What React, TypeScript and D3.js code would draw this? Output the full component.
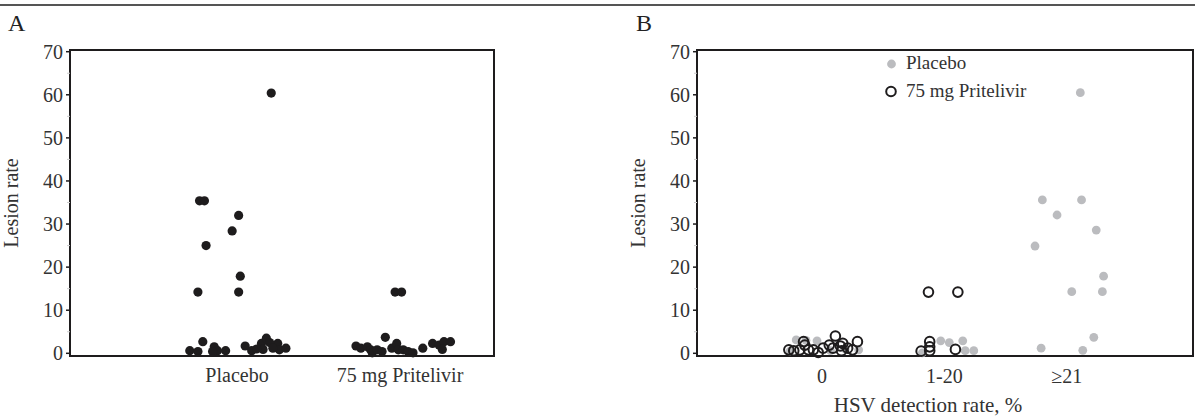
import React from "react";
import * as d3 from "d3";

// panel A: [jitter (category units), lesion rate]
const placeboA: [number, number][] = [
  [-0.23, 35.4], [-0.2, 35.4], [0.01, 32], [-0.03, 28.4], [-0.19, 25], [0.02, 17.9],
  [0.01, 14.2], [-0.24, 14.2], [0.21, 60.4],
  [-0.29, 0.6], [-0.24, 0.4], [-0.21, 2.7], [-0.14, 1.5], [-0.12, 0.6], [-0.07, 0.6],
  [0.05, 1.7], [0.09, 0.6], [0.15, 2.3], [0.18, 3.5], [0.16, 0.9], [0.25, 2.3],
  [0.26, 0.8], [0.3, 1.2], [0.12, 1.0], [0.2, 2.5], [-0.15, 0.4], [0.22, 1.2],
];
const pritelivirA: [number, number][] = [
  [-0.27, 1.7], [-0.24, 1.2], [-0.2, 1.5], [-0.18, 0.8], [-0.17, 0.1], [-0.14, 0.8],
  [-0.11, 0.4], [-0.09, 3.7], [-0.05, 1.2], [-0.02, 2.3], [-0.01, 0.8], [0.02, 0.8],
  [0.05, 0.4], [0.08, 0.1], [0.14, 1.2], [0.2, 2.3], [0.24, 1.9], [0.27, 2.7],
  [0.31, 2.7], [0.26, 0.9], [-0.03, 14.2], [0.01, 14.2],
];

// panel B: [category index, jitter, lesion rate]
const placeboB: [number, number, number][] = [
  [0, -0.21, 3.1], [0, -0.04, 2.9], [0, -0.13, 3.0], [0, 0.3, 0.8], [0, -0.26, 0.5],
  [0, 0.07, 0.6], [0, 0.19, 1.0],
  [1, -0.03, 2.9], [1, 0.04, 2.5], [1, 0.15, 2.9], [1, 0.17, 0.6], [1, 0.24, 0.6], [1, -0.18, 0.1],
  [2, -0.2, 35.6], [2, 0.12, 35.6], [2, -0.08, 32.1], [2, 0.24, 28.6], [2, 0.3, 17.9],
  [2, 0.04, 14.3], [2, 0.29, 14.3], [2, 0.11, 60.5], [2, -0.26, 24.9], [2, -0.21, 1.2],
  [2, 0.13, 0.7], [2, 0.22, 3.7],
];
const pritelivirB: [number, number, number][] = [
  [0, -0.27, 0.8], [0, -0.23, 0.6], [0, -0.18, 0.8], [0, -0.15, 2.7], [0, -0.14, 1.9],
  [0, -0.11, 0.8], [0, -0.07, 0.8], [0, 0.01, 1.2], [0, 0.06, 1.9], [0, 0.11, 4.0],
  [0, 0.09, 1.2], [0, 0.15, 1.7], [0, 0.17, 2.3], [0, 0.21, 1.2], [0, 0.25, 0.8],
  [0, 0.29, 2.7], [0, 0.16, 0.6], [0, -0.03, 0.2],
  [1, -0.19, 0.5], [1, -0.12, 2.7], [1, -0.12, 1.5], [1, -0.12, 0.6], [1, 0.09, 0.9],
  [1, -0.13, 14.2], [1, 0.11, 14.2],
];

const catsA = ["Placebo", "75 mg Pritelivir"];
const catsB = ["0", "1-20", "≥21"];
const yTicks = [0, 10, 20, 30, 40, 50, 60, 70];
const yMinor = [5, 15, 25, 35, 45, 55, 65];

const txt = { fontFamily: "Liberation Serif, Times New Roman, serif", fill: "#333" };
const GRAY = "#bbbcbf";
const INK = "#1e1c1d";

const y = d3.scaleLinear().domain([0, 70]).range([353.3, 51.7]);
const boxTop = 50;
const boxBottom = 356;

const xA = d3.scaleLinear().domain([-1.025, 1.577]).range([70, 494]);
const xB = d3.scaleLinear().domain([-1.02, 3.03]).range([697, 1193]);

function Frame({ x0, x1, label }: { x0: number; x1: number; label: string }) {
  return (
    <g>
      <rect x={x0} y={boxTop} width={x1 - x0} height={boxBottom - boxTop}
        fill="none" stroke={INK} strokeWidth={2} />
      {yMinor.map((t) => (
        <line key={"m" + t} x1={x0 - 3} x2={x0} y1={y(t)} y2={y(t)} stroke="#ccc" strokeWidth={1} />
      ))}
      {yTicks.map((t) => (
        <g key={t}>
          <line x1={x0 - 4} x2={x0} y1={y(t)} y2={y(t)} stroke={INK} strokeWidth={1.5} />
          <text x={x0 - 7} y={y(t)} dy="0.35em" textAnchor="end" fontSize={20} style={txt}>{t}</text>
        </g>
      ))}
      <text transform={`translate(${x0 - 52},${(boxTop + boxBottom) / 2}) rotate(-90)`}
        textAnchor="middle" fontSize={20} style={txt}>{label}</text>
    </g>
  );
}

export default function App() {
  return (
    <svg width={1195} height={416} style={{ position: "absolute", left: 0, top: 0, background: "#fff" }}>
      <line x1={0} x2={1195} y1={5} y2={5} stroke="#555" strokeWidth={2} />
      <text x={8} y={31} fontSize={24} style={{ ...txt, fill: "#222" }}>A</text>
      <text x={636} y={31} fontSize={24} style={{ ...txt, fill: "#222" }}>B</text>

      {/* Panel A */}
      <Frame x0={xA.range()[0]} x1={xA.range()[1]} label="Lesion rate" />
      {catsA.map((c, i) => (
        <text key={c} x={xA(i)} y={382} textAnchor="middle" fontSize={20} style={txt}>{c}</text>
      ))}
      {placeboA.map(([j, v], i) => (
        <circle key={"pa" + i} cx={xA(0 + j)} cy={y(v)} r={4.6} fill={INK} />
      ))}
      {pritelivirA.map(([j, v], i) => (
        <circle key={"ta" + i} cx={xA(1 + j)} cy={y(v)} r={4.6} fill={INK} />
      ))}

      {/* Panel B */}
      <Frame x0={xB.range()[0]} x1={xB.range()[1]} label="Lesion rate" />
      {catsB.map((c, i) => (
        <text key={c} x={xB(i)} y={383} textAnchor="middle" fontSize={20} style={txt}>{c}</text>
      ))}
      <text x={928} y={412} textAnchor="middle" fontSize={21} style={txt}>HSV detection rate, %</text>
      {placeboB.map(([c, j, v], i) => (
        <circle key={"pb" + i} cx={xB(c + j)} cy={y(v)} r={4.4} fill={GRAY} />
      ))}
      {pritelivirB.map(([c, j, v], i) => (
        <circle key={"tb" + i} cx={xB(c + j)} cy={y(v)} r={4.8} fill="none" stroke={INK} strokeWidth={2} />
      ))}

      {/* legend */}
      <circle cx={891.5} cy={64} r={4.4} fill={GRAY} />
      <text x={906} y={69} fontSize={19} style={txt}>Placebo</text>
      <circle cx={891} cy={91.5} r={4.8} fill="none" stroke={INK} strokeWidth={2} />
      <text x={906} y={97} fontSize={19} style={txt}>75 mg Pritelivir</text>
    </svg>
  );
}
